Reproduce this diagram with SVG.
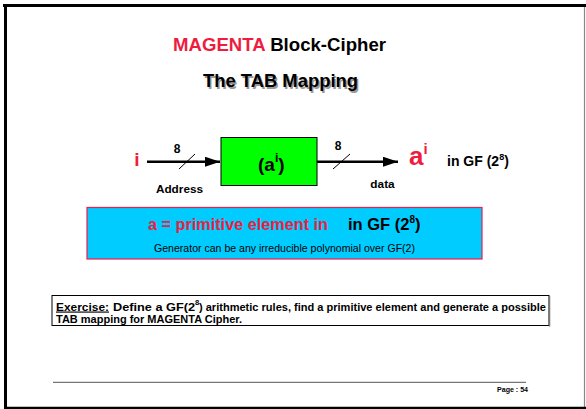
<svg xmlns="http://www.w3.org/2000/svg" width="586" height="409" viewBox="0 0 586 409">
<style>
text{font-family:"Liberation Sans",Arial,sans-serif;font-weight:bold;}
.red{fill:#ee1c3f;}
.conn{stroke:#000;stroke-width:2.5;fill:none;}
.slash{stroke:#000;stroke-width:1;}
.ex{font-size:11.5px;}
</style>
<defs>
<marker id="ah" markerWidth="6" markerHeight="4" refX="6" refY="2" orient="auto" markerUnits="strokeWidth">
<path d="M0,0 L6,2 L0,4 z" fill="#000"/>
</marker>
</defs>
<rect width="586" height="409" fill="#fff"/>
<g id="frame">
<line x1="3" y1="5.5" x2="586" y2="5.5" stroke="#000" stroke-width="3"/>
<line x1="5.5" y1="4" x2="5.5" y2="409" stroke="#000" stroke-width="3"/>
<line x1="584.5" y1="7" x2="584.5" y2="409" stroke="#888" stroke-width="1.2"/>
<line x1="4" y1="408" x2="586" y2="408" stroke="#000" stroke-width="2.5"/>
</g>
<g id="title">
<text x="173" y="51" font-size="18.4" textLength="213" lengthAdjust="spacingAndGlyphs"><tspan class="red">MAGENTA</tspan> Block-Cipher</text>
<text x="204.5" y="88.5" font-size="18.6" fill="#999" textLength="155" lengthAdjust="spacingAndGlyphs">The TAB Mapping</text>
<text x="203" y="87" font-size="18.6" fill="#000" textLength="155" lengthAdjust="spacingAndGlyphs">The TAB Mapping</text>
</g>
<g id="connectors">
<line class="conn" x1="147" y1="161.7" x2="220" y2="161.7" marker-end="url(#ah)"/>
<line class="slash" x1="179" y1="169" x2="195" y2="154"/>
<line class="conn" x1="317" y1="161.7" x2="398" y2="161.7" marker-end="url(#ah)"/>
<line class="slash" x1="333" y1="169" x2="350" y2="154"/>
</g>
<g id="labels">
<text class="red" x="137" y="166" font-size="19" text-anchor="middle">i</text>
<text x="177" y="153" font-size="12" text-anchor="middle">8</text>
<text x="179.5" y="193" font-size="11.8" text-anchor="middle">Address</text>
<text x="338" y="150" font-size="12" text-anchor="middle">8</text>
<text x="382.5" y="188" font-size="11.8" text-anchor="middle">data</text>
<text class="red" x="409" y="165" font-size="26">a<tspan font-size="15" dy="-11">i</tspan></text>
<text x="447" y="166" font-size="14">in GF (2<tspan font-size="9" dy="-6">8</tspan><tspan dy="6">)</tspan></text>
</g>
<g id="node-tab">
<rect x="221" y="137.5" width="96" height="48" fill="#00ff00" stroke="#000" stroke-width="1"/>
<text x="258" y="171" font-size="19">(a<tspan font-size="12" dy="-9">i</tspan><tspan dy="9">)</tspan></text>
</g>
<g id="node-primitive">
<rect x="87" y="207.5" width="395" height="51.5" fill="#00ccff" stroke="#ee1c4a" stroke-width="1.2"/>
<text class="red" x="148" y="230" font-size="16.5" textLength="180" lengthAdjust="spacingAndGlyphs">a = primitive element in</text>
<text x="348" y="230" font-size="16.5">in GF (2<tspan font-size="10" dy="-7">8</tspan><tspan dy="7">)</tspan></text>
<text x="154" y="251.5" font-size="10.5" style="font-weight:normal" textLength="261" lengthAdjust="spacingAndGlyphs">Generator can be any irreducible polynomial over GF(2)</text>
</g>
<g id="node-exercise">
<rect x="52" y="295.5" width="497" height="30" fill="#fff" stroke="#000" stroke-width="1"/>
<line x1="549.5" y1="296" x2="549.5" y2="326.5" stroke="#777" stroke-width="1.5"/>
<text class="ex" x="56" y="310.5" textLength="53" lengthAdjust="spacingAndGlyphs" text-decoration="underline">Exercise:</text>
<text class="ex" x="113" y="310.5" textLength="82" lengthAdjust="spacingAndGlyphs">Define a GF(2</text>
<text x="195" y="305" font-size="7.5">8</text>
<text class="ex" x="199" y="310.5" textLength="347" lengthAdjust="spacingAndGlyphs">) arithmetic rules, find a primitive element and generate a possible</text>
<text class="ex" x="56" y="322.5" textLength="186" lengthAdjust="spacingAndGlyphs">TAB mapping for MAGENTA Cipher.</text>
</g>
<g id="footer">
<line x1="53" y1="382.3" x2="526" y2="382.3" stroke="#777" stroke-width="1.3"/>
<text x="497" y="392" font-size="7.5" textLength="31" lengthAdjust="spacingAndGlyphs">Page :  54</text>
</g>
</svg>
